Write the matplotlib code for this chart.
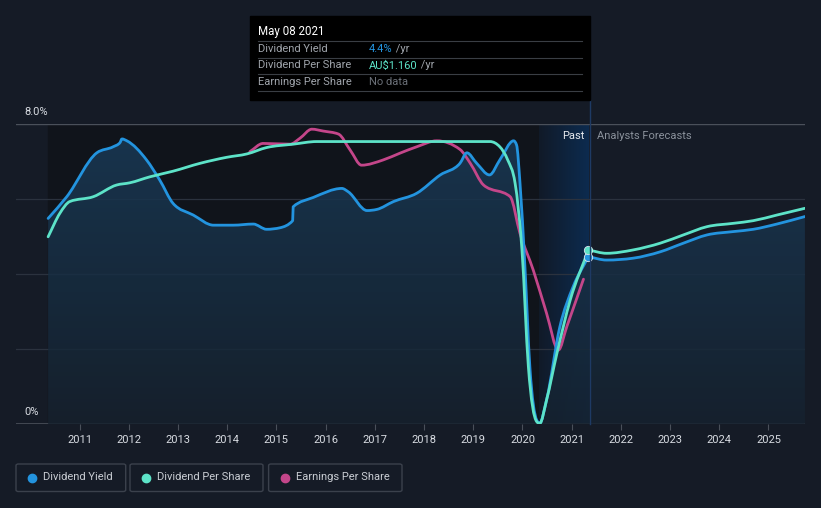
import numpy as np
import matplotlib.pyplot as plt
from matplotlib.patches import Rectangle, FancyBboxPatch, PathPatch
from matplotlib.lines import Line2D
from matplotlib.path import Path
from matplotlib.colors import LinearSegmentedColormap

plt.rcParams['font.family'] = ['Roboto', 'DejaVu Sans']

# dividend yield (%) - past
dy_x = [2010.36, 2010.74, 2011.35, 2011.68, 2011.82, 2011.86, 2011.96, 2012.36, 2012.63, 2012.90,
        2013.31, 2013.72, 2014.12, 2014.53, 2014.80, 2015.07, 2015.33, 2015.34, 2015.75, 2016.33,
        2016.46, 2016.84, 2017.04, 2017.38, 2017.85, 2018.33, 2018.73, 2018.87, 2019.07, 2019.33,
        2019.54, 2019.82, 2019.88, 2019.95, 2020.05, 2020.15, 2020.29, 2020.35, 2020.49, 2020.76,
        2021.03, 2021.34]
dy_y = [5.49, 6.07, 7.24, 7.40, 7.51, 7.61, 7.56, 7.05, 6.51, 5.89,
        5.58, 5.31, 5.31, 5.34, 5.20, 5.24, 5.43, 5.80, 6.05, 6.29,
        6.20, 5.70, 5.73, 5.94, 6.16, 6.65, 6.96, 7.24, 6.96, 6.65,
        7.05, 7.56, 7.45, 6.43, 4.20, 1.54, 0.11, 0.03, 0.65, 2.60,
        3.67, 4.47]
# dividend yield - forecast
dyf_x = [2021.34, 2021.71, 2022.25, 2022.80, 2023.27, 2023.75, 2024.29, 2024.69, 2025.17, 2025.74]
dyf_y = [4.47, 4.38, 4.43, 4.60, 4.83, 5.05, 5.14, 5.20, 5.34, 5.54]

# dividend per share (scaled to chart)
dps_x = [2010.36, 2010.60, 2010.80, 2011.28, 2011.75, 2012.02, 2012.43, 2012.90, 2013.45, 2013.99,
         2014.40, 2014.80, 2015.34, 2015.82, 2019.34, 2019.54, 2019.70, 2019.85, 2019.99, 2020.12,
         2020.29, 2020.35, 2020.49, 2020.70, 2020.97, 2021.34]
dps_y = [5.00, 5.63, 5.94, 6.07, 6.38, 6.44, 6.60, 6.75, 6.96, 7.12,
         7.21, 7.38, 7.47, 7.54, 7.54, 7.40, 7.05, 6.43, 4.65, 1.54,
         0.07, 0.02, 0.65, 1.89, 3.31, 4.65]
dpsf_x = [2021.34, 2021.71, 2022.25, 2022.80, 2023.27, 2023.75, 2024.29, 2024.69, 2025.17, 2025.74]
dpsf_y = [4.65, 4.56, 4.65, 4.83, 5.05, 5.27, 5.36, 5.43, 5.58, 5.76]

# earnings per share (scaled to chart)
eps_x = [2014.46, 2014.73, 2015.28, 2015.48, 2015.72, 2015.95, 2016.26, 2016.50, 2016.73, 2017.17,
         2017.51, 2017.85, 2018.26, 2018.73, 2018.94, 2019.21, 2019.75, 2019.95, 2020.22, 2020.49,
         2020.73, 2020.90, 2021.24]
eps_y = [7.27, 7.49, 7.47, 7.63, 7.87, 7.82, 7.74, 7.31, 6.91, 7.05,
         7.23, 7.40, 7.56, 7.33, 6.96, 6.38, 6.07, 5.09, 4.11, 2.96,
         1.98, 2.60, 3.87]

years = list(range(2011, 2026))
past_start, past_end, now = 2010.36, 2020.34, 2021.35

# colours
bg = '#151b26'
c_dy = '#2394df'
c_dps = '#5de3c8'
c_eps = '#c4468a'


def curve(xs, ys, close_to=None):
    # monotone cubic curve drawn as bezier segments through the given points
    x = np.asarray(xs, float)
    y = np.asarray(ys, float)
    h = np.diff(x)
    d = np.diff(y) / h
    m = np.zeros(len(x))
    m[0], m[-1] = d[0], d[-1]
    for i in range(1, len(x) - 1):
        s0, s1 = d[i - 1], d[i]
        p = (s0 * h[i] + s1 * h[i - 1]) / (h[i - 1] + h[i])
        m[i] = (np.sign(s0) + np.sign(s1)) * min(abs(s0), abs(s1), 0.5 * abs(p))
    verts = [(x[0], y[0])]
    codes = [Path.MOVETO]
    for i in range(len(x) - 1):
        verts += [(x[i] + h[i] / 3, y[i] + m[i] * h[i] / 3),
                  (x[i + 1] - h[i] / 3, y[i + 1] - m[i + 1] * h[i] / 3),
                  (x[i + 1], y[i + 1])]
        codes += [Path.CURVE4] * 3
    if close_to is not None:
        verts += [(x[-1], close_to), (x[0], close_to), (x[0], y[0])]
        codes += [Path.LINETO, Path.LINETO, Path.CLOSEPOLY]
    return Path(verts, codes)


W, H = 821, 508
fig = plt.figure(figsize=(W / 100, H / 100), dpi=100)
fig.patch.set_facecolor(bg)


def fx(px):
    return px / W


def fy(py):
    return 1 - py / H


ax = fig.add_axes([fx(16), fy(424.3), fx(805) - fx(16), fy(124.3) - fy(424.3)])
ax.set_facecolor(bg)
x0 = 2011 + (16 - 79.6) / 49.2
x1 = 2025.742
ax.set_xlim(x0, x1)
ax.set_ylim(0, 8)
for s in ax.spines.values():
    s.set_visible(False)

# past darker region
ax.add_patch(Rectangle((past_start, 0), past_end - past_start, 8, color='#10141b', zorder=0))
# last year highlight band (gradient)
grad = np.linspace(0, 1, 256).reshape(1, -1)
band_cmap = LinearSegmentedColormap.from_list('band', ['#111a28', '#0c2b4f'])
ax.imshow(grad, extent=(past_end, now, 0, 8), aspect='auto', cmap=band_cmap, zorder=0.5)

# grid lines
for v in [2, 4, 6]:
    ax.axhline(v, color='#2b323e', lw=0.9, zorder=1)
ax.axhline(8, color='#4a505a', lw=1, zorder=1)
ax.axhline(0, color='#4a505a', lw=1.2, zorder=1)

# gradient fill below dividend yield
all_x = dy_x + dyf_x[1:]
all_y = dy_y + dyf_y[1:]
fill_path = curve(all_x, all_y, close_to=0)
fill_cmap = LinearSegmentedColormap.from_list('fill', ['#16222f', '#1a3b58'])
vgrad = np.linspace(0, 1, 256).reshape(-1, 1)
im = ax.imshow(vgrad, extent=(all_x[0], all_x[-1], 0, 8), origin='lower', aspect='auto',
               cmap=fill_cmap, alpha=0.85, zorder=2)
im.set_clip_path(fill_path, transform=ax.transData)


def draw(xs, ys, col, z):
    ax.add_patch(PathPatch(curve(xs, ys), fc='none', ec=col, lw=2, zorder=z,
                           capstyle='round', joinstyle='round'))


# lines
draw(eps_x, eps_y, c_eps, 3)
draw(dy_x, dy_y, c_dy, 4)
draw(dyf_x, dyf_y, c_dy, 4)
draw(dps_x, dps_y, c_dps, 5)
draw(dpsf_x, dpsf_y, c_dps, 5)
ax.plot([dy_x[-1]], [dy_y[-1]], 'o', ms=6, color=c_dy, mec='#dce6f0', mew=0.6, zorder=6)
ax.plot([dps_x[-1]], [dps_y[-1]], 'o', ms=6, color=c_dps, mec='#dce6f0', mew=0.6, zorder=6)

# hover line
fig.add_artist(Line2D([fx(590), fx(590)], [fy(424), fy(100)], color='#1e3a64', lw=1))

# ticks
ax.set_xticks(years)
ax.set_xticklabels([str(y) for y in years], color='#d8dce2', fontsize=8)
ax.tick_params(axis='x', length=4, color='#4a505a', pad=4)
ax.set_yticks([])

# y labels
fig.text(fx(24), fy(112), '8.0%', color='#d8dce2', fontsize=8, va='center')
fig.text(fx(24), fy(412), '0%', color='#d8dce2', fontsize=8, va='center')

# past / forecast labels
fig.text(fx(584), fy(136), 'Past', color='#e6e9ee', fontsize=8, ha='right', va='center')
fig.text(fx(597), fy(136), 'Analysts Forecasts', color='#8a919b', fontsize=8, ha='left', va='center')

# tooltip
fig.add_artist(Rectangle((fx(249.5), fy(100)), fx(589.5) - fx(249.5), fy(15.7) - fy(100),
                         color='#000000', zorder=10))
for yy in [40.7, 57.7, 74.3, 91]:
    fig.add_artist(Line2D([fx(258), fx(582)], [fy(yy), fy(yy)], color='#3a3e44', lw=0.8, zorder=11))
fig.text(fx(258), fy(31), 'May 08 2021', color='#ffffff', fontsize=8.3, va='center', zorder=12)
rows = [('Dividend Yield', '4.4%', c_dy, ' /yr'),
        ('Dividend Per Share', 'AU$1.160', c_dps, ' /yr'),
        ('Earnings Per Share', 'No data', '#6b7078', '')]
for i, (lab, val, col, suf) in enumerate(rows):
    yy = fy(48.5 + i * 17)
    fig.text(fx(258), yy, lab, color='#a0a5ac', fontsize=8, va='center', zorder=12)
    t = fig.text(fx(369), yy, val, color=col, fontsize=8, va='center', zorder=12)
    if suf:
        fig.canvas.draw()
        bb = t.get_window_extent()
        fig.text(bb.x1 / W, yy, suf, color='#a0a5ac', fontsize=8, va='center', zorder=12)

# legend boxes
legend = [('Dividend Yield', c_dy, 16, 125.7),
          ('Dividend Per Share', c_dps, 130, 263),
          ('Earnings Per Share', c_eps, 268.6, 402)]
for lab, col, l, r in legend:
    fig.add_artist(FancyBboxPatch((fx(l), fy(491.5)), fx(r) - fx(l), fy(464) - fy(491.5),
                                  boxstyle='round,pad=0,rounding_size=0.003',
                                  fc='none', ec='#3b414c', lw=1))
    fig.add_artist(Line2D([fx(l + 16)], [fy(477.5)], marker='o', ms=6, color=col, lw=0))
    fig.text(fx(l + 27), fy(477.5), lab, color='#c9cdd3', fontsize=8, va='center')

fig.savefig('out.png', dpi=100, facecolor=bg)
